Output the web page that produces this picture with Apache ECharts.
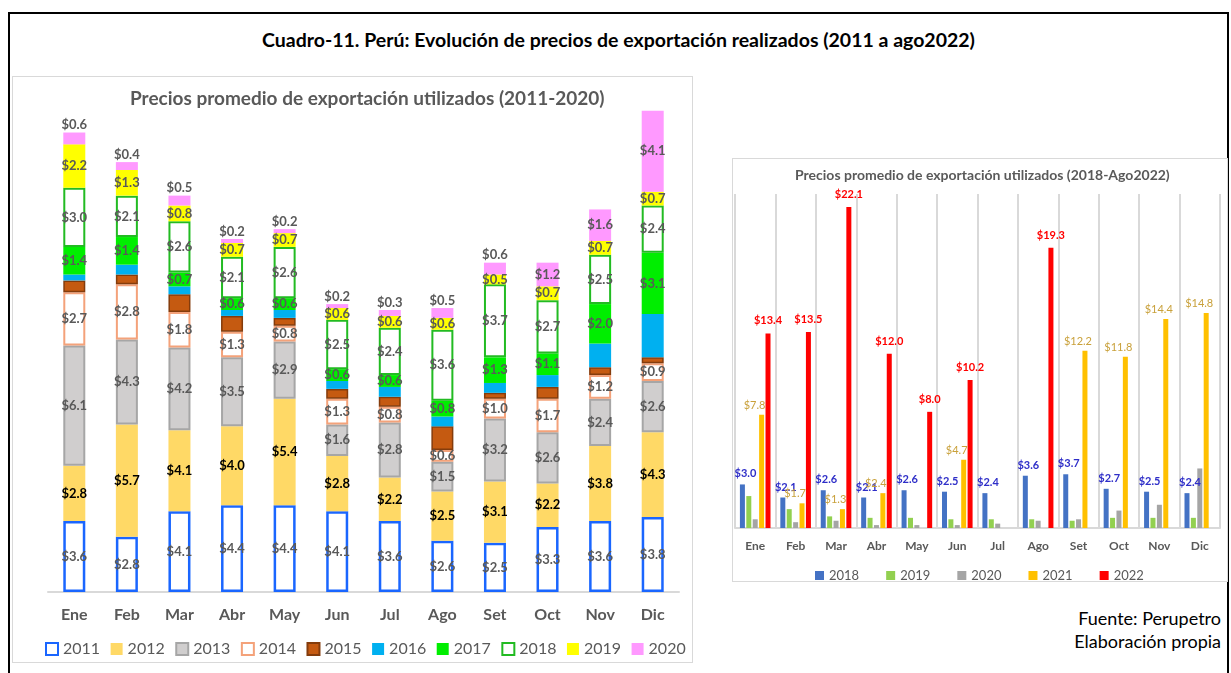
<!DOCTYPE html>
<html>
<head>
    <meta charset="utf-8">
    <title>Cuadro-11 Perú precios de exportación</title>
    <script src="https://cdn.jsdelivr.net/npm/echarts@6/dist/echarts.min.js"></script>
    <style>
        body {
            margin: 0;
            width: 1231px;
            height: 673px;
            background: #fff;
            position: relative;
            overflow: hidden;
            font-family: Lato, 'Liberation Sans', sans-serif;
        }
        .frame {
            position: absolute;
            left: 8px; top: 12px;
            width: 1221px; height: 700px;
            border: 2px solid #000;
            box-sizing: border-box;
        }
        .main-title {
            position: absolute;
            left: 8px; width: 1221px; top: 28px;
            text-align: center;
            font: bold 19.5px Lato, 'Liberation Sans', sans-serif;
            color: #000;
        }
        .chart-box {
            position: absolute;
            border: 1px solid #d9d9d9;
            box-sizing: border-box;
            background: #fff;
        }
        #chartLeft { left: 12px; top: 76px; width: 681px; height: 587px; }
        #chartRight { left: 732px; top: 158px; width: 496px; height: 424px; }
        .fuente {
            position: absolute;
            right: 10px; top: 607px;
            text-align: right;
            font: 18px/23px Lato, 'Liberation Sans', sans-serif;
            color: #000;
        }
    </style>
</head>
<body>
    <div class="frame"></div>
    <div class="main-title">Cuadro-11. Perú: Evolución de precios de exportación realizados (2011 a ago2022)</div>
    <div class="chart-box" id="chartLeft"></div>
    <div class="chart-box" id="chartRight"></div>
    <div class="fuente">Fuente: Perupetro<br>Elaboración propia</div>

<script>
// meses
const months = ['Ene','Feb','Mar','Abr','May','Jun','Jul','Ago','Set','Oct','Nov','Dic'];

// precios 2011-2020 (2015 y 2016 sin etiqueta -> estimados)
const p2011 = [3.6, 2.8, 4.1, 4.4, 4.4, 4.1, 3.6, 2.6, 2.5, 3.3, 3.6, 3.8];
const p2012 = [2.8, 5.7, 4.1, 4.0, 5.4, 2.8, 2.2, 2.5, 3.1, 2.2, 3.8, 4.3];
const p2013 = [6.1, 4.3, 4.2, 3.5, 2.9, 1.6, 2.8, 1.5, 3.2, 2.6, 2.4, 2.6];
const p2014 = [2.7, 2.8, 1.8, 1.3, 0.8, 1.3, 0.8, 0.6, 1.0, 1.7, 1.2, 0.9];
const p2015 = [0.6, 0.5, 0.9, 0.8, 0.4, 0.5, 0.5, 1.2, 0.3, 0.6, 0.4, 0.3];
const p2016 = [0.3, 0.5, 0.4, 0.3, 0.4, 0.4, 0.5, 0.5, 0.5, 0.6, 1.2, 2.2];
const p2017 = [1.4, 1.4, 0.7, 0.6, 0.6, 0.6, 0.6, 0.8, 1.3, 1.1, 2.0, 3.1];
const p2018 = [3.0, 2.1, 2.6, 2.1, 2.6, 2.5, 2.4, 3.6, 3.7, 2.7, 2.5, 2.4];
const p2019 = [2.2, 1.3, 0.8, 0.7, 0.7, 0.6, 0.6, 0.6, 0.5, 0.7, 0.7, 0.7];
const p2020 = [0.6, 0.4, 0.5, 0.2, 0.2, 0.2, 0.3, 0.5, 0.6, 1.2, 1.6, 4.1];

// 2021 y 2022 (hasta agosto)
const p2021 = [7.8, 1.7, 1.3, 2.4, null, 4.7, null, null, 12.2, 11.8, 14.4, 14.8];
const p2022 = [13.4, 13.5, 22.1, 12.0, 8.0, 10.2, null, 19.3, null, null, null, null];

const fontFam = 'Lato, "Liberation Sans", sans-serif';
const money = p => '$' + Number(p.value).toFixed(1);

// ---------- grafico izquierdo: barras apiladas ----------
const leftYears = [
    { name: '2011', data: p2011, fill: '#fff', border: '#1a66ff', bw: 2.5, label: true },
    { name: '2012', data: p2012, fill: '#ffd966', border: '#ffd966', bw: 0, label: true, labelColor: '#000' },
    { name: '2013', data: p2013, fill: '#d0cece', border: '#a6a6a6', bw: 2, label: true },
    { name: '2014', data: p2014, fill: '#fff', border: '#f4a27a', bw: 2, label: true },
    { name: '2015', data: p2015, fill: '#c55a11', border: '#843c0c', bw: 1.5, label: false },
    { name: '2016', data: p2016, fill: '#00b0f0', border: '#00b0f0', bw: 0, label: false },
    { name: '2017', data: p2017, fill: '#00ee00', border: '#00ee00', bw: 0, label: true },
    { name: '2018', data: p2018, fill: '#fff', border: '#22bb22', bw: 2, label: true },
    { name: '2019', data: p2019, fill: '#ffff00', border: '#ffff00', bw: 0, label: true },
    { name: '2020', data: p2020, fill: '#ff99ff', border: '#ff99ff', bw: 0, label: true, smallTop: true }
];

let chartLeft = echarts.init(document.getElementById('chartLeft'));
chartLeft.setOption({
    textStyle: { fontFamily: fontFam },
    animation: false,
    title: {
        text: 'Precios promedio de exportación utilizados (2011-2020)',
        left: 112,
        top: 7,
        textStyle: { color: '#595959', fontSize: 19, fontWeight: 'bold', fontFamily: fontFam }
    },
    legend: {
        left: 27,
        top: 559,
        width: 660,
        icon: 'rect',
        itemWidth: 12,
        itemHeight: 12,
        itemGap: 10.5,
        textStyle: { color: '#595959', fontSize: 16, fontFamily: fontFam }
    },
    grid: { left: 35, right: 13, top: 22, bottom: 70 },
    xAxis: {
        type: 'category',
        data: months,
        axisLine: { lineStyle: { color: '#d9d9d9', width: 2 } },
        axisTick: { show: false },
        axisLabel: { color: '#595959', fontSize: 16, fontWeight: 'bold', margin: 15, fontFamily: fontFam }
    },
    yAxis: { type: 'value', min: 0, max: 25, show: false, splitLine: { show: false } },
    series: leftYears.map(y => ({
        type: 'bar',
        name: y.name,
        stack: 'total',
        barWidth: 22,
        itemStyle: { color: y.fill, borderColor: y.border, borderWidth: y.bw },
        label: {
            show: y.label,
            position: 'inside',
            formatter: money,
            color: y.labelColor || '#595959',
            fontSize: 13,
            fontWeight: 'bold',
            fontFamily: fontFam
        },
        data: y.data.map(v => (y.smallTop && v < 1)
            ? { value: v, label: { position: 'top', distance: 1 } }
            : v)
    }))
});

// ---------- grafico derecho: barras agrupadas ----------
const rightYears = [
    { name: '2018', data: p2018, color: '#4472c4', label: { color: '#2e2ec8', fontWeight: 'bold', offset: [3, -1] } },
    { name: '2019', data: p2019, color: '#92d050', label: null },
    { name: '2020', data: p2020, color: '#a5a5a5', label: null },
    { name: '2021', data: p2021, color: '#ffc000', label: { color: '#c9a13b', fontWeight: 'normal', offset: [-7, 0] } },
    { name: '2022', data: p2022, color: '#ff0000', label: { color: '#ff0000', fontWeight: 'bold', offset: [0, -3] } }
];

let chartRight = echarts.init(document.getElementById('chartRight'));
chartRight.setOption({
    textStyle: { fontFamily: fontFam },
    animation: false,
    title: {
        text: 'Precios promedio de exportación utilizados (2018-Ago2022)',
        left: 57,
        top: 4,
        textStyle: { color: '#595959', fontSize: 14, fontWeight: 'bold', fontFamily: fontFam }
    },
    legend: {
        left: 77,
        top: 405,
        icon: 'rect',
        itemWidth: 9,
        itemHeight: 9,
        itemGap: 27,
        textStyle: { color: '#595959', fontSize: 13, fontFamily: fontFam }
    },
    grid: { left: 2, right: 7, top: 35, bottom: 53 },
    xAxis: {
        type: 'category',
        data: months,
        axisLine: { lineStyle: { color: '#d9d9d9', width: 2 } },
        axisTick: { show: false },
        splitLine: { show: true, interval: 0, lineStyle: { color: '#d9d9d9', width: 2 } },
        axisLabel: { color: '#595959', fontSize: 12, fontWeight: 'bold', margin: 12, fontFamily: fontFam }
    },
    yAxis: { type: 'value', min: 0, max: 23, show: false, splitLine: { show: false } },
    series: rightYears.map(y => ({
        type: 'bar',
        name: y.name,
        barWidth: 5,
        barGap: '28%',
        itemStyle: { color: y.color },
        label: y.label ? {
            show: true,
            position: 'top',
            distance: 4,
            formatter: money,
            fontSize: 11,
            fontFamily: fontFam,
            color: y.label.color,
            fontWeight: y.label.fontWeight,
            offset: y.label.offset
        } : { show: false },
        data: y.data
    }))
});
</script>
</body>
</html>
